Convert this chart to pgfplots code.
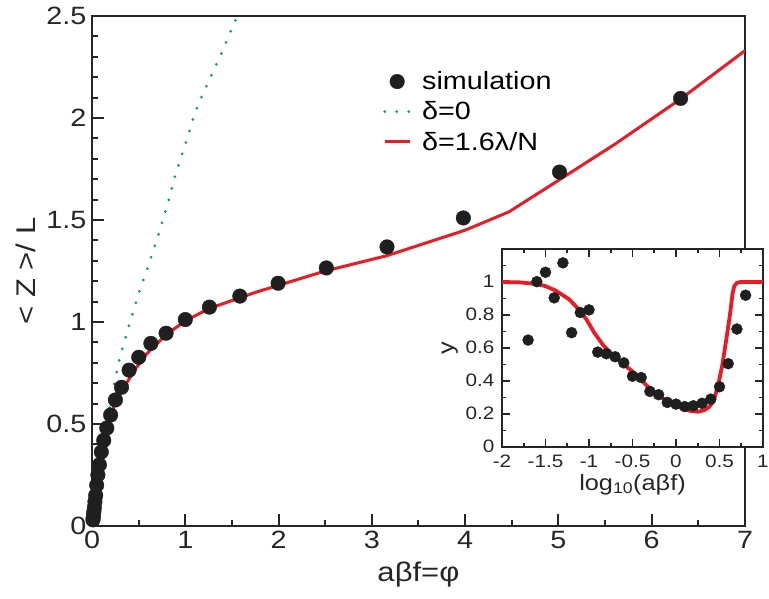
\documentclass[border=0pt]{standalone}
\usepackage{fontspec}
\setmainfont{Liberation Sans}[FakeStretch=1.15]
\usepackage{pgfplots}
\pgfplotsset{compat=1.18}
\definecolor{myred}{RGB}{232,28,36}
\definecolor{mygreen}{RGB}{0,166,81}
\begin{document}
\begin{tikzpicture}
\useasboundingbox (0,0) rectangle (769pt,598pt);
\begin{axis}[
  at={(92pt,72pt)}, anchor=south west, scale only axis,
  width=653pt, height=510pt,
  xmin=0, xmax=7, ymin=0, ymax=2.5,
  axis line style={line width=2.6pt, black!85},
  xtick={0,1,2,3,4,5,6,7}, minor x tick num=1,
  ytick={0,0.5,1,1.5,2,2.5}, minor y tick num=4,
  tick align=inside, xtick pos=bottom, ytick pos=left,
  major tick length=12pt, minor tick length=6pt,
  tick style={line width=2pt, black!85},
  /pgf/number format/assume math mode=true,
  ticklabel style={font=\fontsize{25}{25}\selectfont, black!85},
  xticklabel style={yshift=-2pt},
  yticklabel style={xshift=-2pt},
  xlabel={aβf=φ}, ylabel={< Z >/ L},
  label style={font=\fontsize{27}{27}\selectfont, black!85},
  xlabel style={at={(axis description cs:0.5,-0.096)}, anchor=center},
  ylabel style={at={(axis description cs:-0.101,0.5)}, anchor=center},
  legend image code/.code={\draw[mark repeat=2,mark phase=2,#1] plot coordinates {(0pt,0pt) (12.5pt,0pt) (25pt,0pt)};},
  legend style={draw=none, fill=none, font=\fontsize{25}{25}\selectfont,
    at={(axis description cs:0.4456,0.895)}, anchor=north west,
    inner sep=0pt, row sep=6.5pt, cells={anchor=west},
    /tikz/every odd column/.append style={column sep=9pt}},
  legend cell align=left,
]
\addplot[only marks, mark=*, mark size=7.3pt, color=black!88] coordinates {
(0.0100,0.03) (0.0126,0.04) (0.0158,0.055) (0.0200,0.07) (0.0251,0.09)
(0.0316,0.12) (0.0398,0.15) (0.0501,0.20) (0.0631,0.25) (0.0794,0.30)
(0.1000,0.363) (0.1259,0.42) (0.1585,0.48) (0.1995,0.544) (0.2512,0.618)
(0.3162,0.68) (0.3981,0.764) (0.5012,0.827) (0.6310,0.895) (0.7943,0.945)
(1.0000,1.012) (1.2589,1.073) (1.5849,1.127) (1.9953,1.19) (2.5119,1.265)
(3.1623,1.368) (3.9811,1.51) (5.0119,1.735) (6.3096,2.096)
};
\addlegendentry{simulation}
\addplot[color=mygreen, line width=3pt, line cap=round, dash pattern=on 0pt off 12pt] coordinates {
(0,0) (0.05,0.21) (0.1,0.40) (0.15,0.50) (0.2,0.61) (0.25,0.72) (0.3,0.83)
(0.4,0.99) (0.5,1.14) (0.6,1.27) (0.7,1.41) (0.8,1.56) (0.9,1.73) (1.0,1.87)
(1.1,2.02) (1.2,2.13) (1.3,2.23) (1.4,2.33) (1.5,2.44) (1.56,2.5)
};
\addlegendentry{δ=0}
\addplot[color=myred, line width=3pt] coordinates {
(0,0) (0.02,0.09) (0.04,0.17) (0.06,0.25) (0.086,0.34) (0.12,0.43) (0.16,0.5)
(0.2,0.545) (0.25,0.60) (0.3,0.645) (0.37,0.70) (0.45,0.76) (0.59,0.846)
(0.8,0.94) (1.0,1.005) (1.25,1.065) (1.5,1.105) (1.75,1.145) (2.0,1.18)
(2.5,1.25) (3.16,1.325) (4.0,1.45) (4.47,1.54) (5.02,1.70) (5.6,1.87)
(6.3,2.09) (7.0,2.33)
};
\addlegendentry{δ=1.6λ/N}
\end{axis}
\begin{axis}[
  at={(502pt,151pt)}, anchor=south west, scale only axis,
  width=261pt, height=198pt,
  xmin=-2, xmax=1, ymin=0, ymax=1.2,
  axis background/.style={fill=white},
  axis line style={line width=2.2pt, black!85},
  xtick={-2,-1.5,-1,-0.5,0,0.5,1}, xticklabels={-2,-1.5,-1,-0.5,0,0.5,1},
  minor x tick num=1,
  ytick={0,0.2,0.4,0.6,0.8,1,1.2}, yticklabels={0,0.2,0.4,0.6,0.8,1,},
  minor y tick num=1,
  tick align=inside,
  major tick length=8pt, minor tick length=4pt,
  tick style={line width=1.6pt, black!85},
  /pgf/number format/assume math mode=true,
  ticklabel style={font=\fontsize{18}{18}\selectfont, black!85, inner sep=0.5pt},
  xticklabel style={yshift=-7pt},
  yticklabel style={xshift=-7pt, yshift=1pt},
  xlabel={log\textsubscript{10}(aβf)}, ylabel={y},
  label style={font=\fontsize{22}{22}\selectfont, black!85},
  xlabel style={at={(axis description cs:0.5,-0.19)}, anchor=center},
  ylabel style={at={(axis description cs:-0.2,0.5)}, anchor=center},
]
\addplot[only marks, mark=*, mark size=5.5pt, color=black!88] coordinates {
(-1.7,0.648) (-1.6,1.002) (-1.5,1.059) (-1.4,0.904) (-1.3,1.116) (-1.2,0.693)
(-1.1,0.815) (-1.0,0.831) (-0.9,0.575) (-0.8,0.565) (-0.7,0.547) (-0.6,0.510)
(-0.5,0.429) (-0.4,0.421) (-0.3,0.337) (-0.2,0.317) (-0.1,0.27) (0.0,0.26)
(0.1,0.245) (0.2,0.25) (0.3,0.265) (0.4,0.29) (0.5,0.365) (0.6,0.505)
(0.7,0.715) (0.8,0.92)
};
\addplot[color=myred, line width=3.8pt, line join=round] coordinates {
(-2,1.0) (-1.8,0.998) (-1.6,0.988) (-1.5,0.975) (-1.38,0.947) (-1.23,0.896)
(-1.12,0.835) (-1.03,0.774) (-0.94,0.693) (-0.83,0.612) (-0.67,0.53)
(-0.48,0.449) (-0.29,0.348) (-0.1,0.276) (0.09,0.23) (0.17,0.218) (0.25,0.214)
(0.32,0.222) (0.37,0.238) (0.41,0.262) (0.45,0.31) (0.49,0.39) (0.53,0.49)
(0.56,0.59) (0.59,0.693) (0.62,0.80) (0.65,0.93) (0.67,0.975) (0.70,0.995)
(0.74,1.0) (0.79,1.0) (1.0,1.0)
};
\end{axis}
\end{tikzpicture}
\end{document}
